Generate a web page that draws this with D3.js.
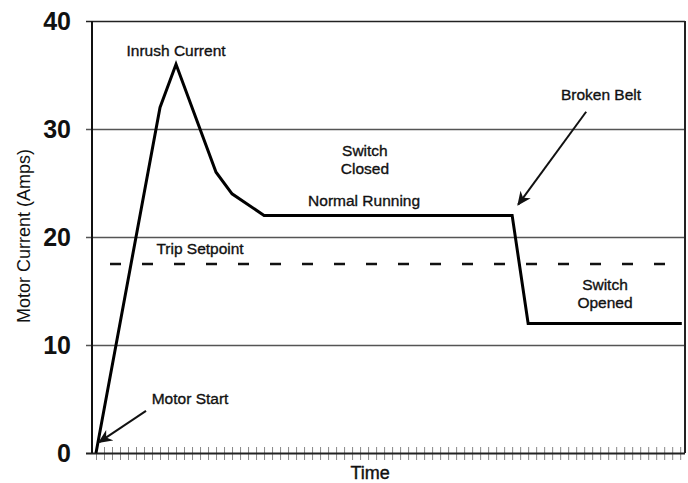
<!DOCTYPE html>
<html>
<head>
<meta charset="utf-8">
<script src="https://cdnjs.cloudflare.com/ajax/libs/d3/7.8.5/d3.min.js"></script>
<style>
    html, body { margin: 0; padding: 0; background: #fff; }
    svg { display: block; font-family: "Liberation Sans", Arial, sans-serif; }
</style>
</head>
<body>
<svg id="chart" width="688" height="483"></svg>
<script>
// motor current trace (time in tick units, amps)
var traceTime = [0, 8, 10, 15, 17, 21, 52, 54, 73.2];
var traceAmps = [0, 32, 36, 26, 24, 22, 22, 12, 12];

var tripSetpoint = 17.5;
var tripRange = [1.75, 73.2];

var yTicks = [0, 10, 20, 30, 40];
var xTicks = d3.range(0, 74);

// text annotations [label lines, time, amps]
var noteText = [["Inrush Current"], ["Motor Start"], ["Switch", "Closed"], ["Normal Running"],
                ["Trip Setpoint"], ["Broken Belt"], ["Switch", "Opened"]];
var noteTime = [10, 11.75, 33.6, 33.5, 13, 63.1, 63.6];
var noteAmps = [37.3, 5.0, 28.0, 23.4, 18.9, 33.2, 15.6];

// arrows [fromTime, fromAmps, toTime, toAmps]
var arrowFrom = [[6.25, 3.9], [61.25, 31.6]];
var arrowTo = [[0.4, 1.0], [52.75, 23.0]];

(function () {
    var svg = d3.select("#chart"),
        plotLeft = 92, plotRight = 685, plotTop = 21, plotBottom = 453;

    var x = d3.scaleLinear().domain([0, 73.6]).range([96, plotRight]);
    var y = d3.scaleLinear().domain([0, 40]).range([plotBottom, plotTop]);

    svg.append("defs").append("marker")
        .attr("id", "head")
        .attr("viewBox", "0 0 10 10")
        .attr("refX", 9).attr("refY", 5)
        .attr("markerWidth", 7).attr("markerHeight", 7)
        .attr("markerUnits", "strokeWidth")
        .attr("orient", "auto")
        .append("path")
        .attr("d", "M0,0.5 L10,5 L0,9.5 L3,5 Z")
        .attr("fill", "#111");

    // x axis: minor ticks crossing the baseline
    var xAxis = svg.append("g")
        .attr("transform", "translate(0," + plotBottom + ")")
        .call(d3.axisBottom(x).tickValues(xTicks).tickSize(7).tickFormat(""));
    xAxis.select(".domain").remove();
    xAxis.selectAll(".tick line")
        .attr("y1", -6)
        .attr("stroke", "#888")
        .attr("stroke-width", 1);

    // y axis with gridlines running across
    var yAxis = svg.append("g")
        .attr("transform", "translate(" + plotLeft + ",0)")
        .call(d3.axisLeft(y).tickValues(yTicks).tickSize(-(plotRight - plotLeft)).tickPadding(21));
    yAxis.select(".domain").remove();
    yAxis.selectAll(".tick line")
        .attr("x1", -6)
        .attr("stroke", function (d) { return d === 0 || d === 40 ? "#222" : "#555"; })
        .attr("stroke-width", function (d) { return d === 0 ? 2 : 1.5; });
    yAxis.selectAll(".tick text")
        .attr("font-size", 25)
        .attr("font-weight", "bold")
        .attr("fill", "#111")
        .attr("font-family", "Liberation Sans, Arial, sans-serif");

    // frame sides
    svg.append("line")
        .attr("x1", plotLeft).attr("x2", plotLeft)
        .attr("y1", y(40)).attr("y2", y(0))
        .attr("stroke", "#111").attr("stroke-width", 2);
    svg.append("line")
        .attr("x1", plotRight).attr("x2", plotRight)
        .attr("y1", y(40)).attr("y2", y(0))
        .attr("stroke", "#222").attr("stroke-width", 2);

    // trip setpoint
    svg.append("line")
        .attr("x1", x(tripRange[0])).attr("x2", x(tripRange[1]))
        .attr("y1", y(tripSetpoint)).attr("y2", y(tripSetpoint))
        .attr("stroke", "#111")
        .attr("stroke-width", 2.5)
        .attr("stroke-dasharray", "11,21");

    // current trace
    var line = d3.line()
        .x(function (d, i) { return x(traceTime[i]); })
        .y(function (d) { return y(d); });

    svg.append("path")
        .datum(traceAmps)
        .attr("d", line)
        .attr("fill", "none")
        .attr("stroke", "#000")
        .attr("stroke-width", 3)
        .attr("stroke-linejoin", "miter");

    // arrows
    svg.selectAll(".arrow")
        .data(arrowFrom)
        .enter()
        .append("line")
        .attr("class", "arrow")
        .attr("x1", function (d) { return x(d[0]); })
        .attr("y1", function (d) { return y(d[1]); })
        .attr("x2", function (d, i) { return x(arrowTo[i][0]); })
        .attr("y2", function (d, i) { return y(arrowTo[i][1]); })
        .attr("stroke", "#111")
        .attr("stroke-width", 2)
        .attr("marker-end", "url(#head)");

    // annotations
    svg.selectAll(".note")
        .data(noteText)
        .enter()
        .append("text")
        .attr("class", "note")
        .attr("text-anchor", "middle")
        .attr("font-size", 15.5)
        .attr("fill", "#111")
        .attr("stroke", "#111")
        .attr("stroke-width", 0.35)
        .attr("transform", function (d, i) {
            return "translate(" + x(noteTime[i]) + "," + y(noteAmps[i]) + ")";
        })
        .selectAll("tspan")
        .data(function (d) { return d; })
        .enter()
        .append("tspan")
        .attr("x", 0)
        .attr("y", function (d, j) { return j * 18; })
        .attr("dy", "0.35em")
        .text(function (d) { return d; });

    // axis titles
    svg.append("text")
        .attr("text-anchor", "middle")
        .attr("font-size", 18)
        .attr("fill", "#111")
        .attr("transform", "translate(30,236) rotate(-90)")
        .text("Motor Current (Amps)");

    svg.append("text")
        .attr("text-anchor", "middle")
        .attr("font-size", 18)
        .attr("fill", "#111")
        .attr("stroke", "#111")
        .attr("stroke-width", 0.4)
        .attr("x", x(34.25))
        .attr("y", 479)
        .text("Time");
})();
</script>
</body>
</html>
